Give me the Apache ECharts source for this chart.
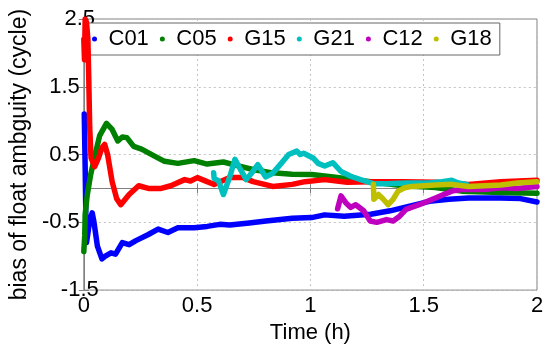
<!DOCTYPE html>
<html>
<head>
<meta charset="utf-8">
<script src="https://cdn.jsdelivr.net/npm/echarts@6/dist/echarts.min.js"></script>
<style>
html,body{margin:0;padding:0;background:#fff;}
#chart{width:550px;height:349px;}
</style>
</head>
<body>
<div id="chart"></div>
<script>
// ---- data (time in hours, bias in cycles) ----
const seriesNames = ['C01', 'C05', 'G15', 'G21', 'C12', 'G18'];
const xTicks = [0, 0.5, 1, 1.5, 2];
const yTicks = [-1.5, -0.5, 0.5, 1.5, 2.5];

const C01 = [[0.002,1.1],[0.006,0.3],[0.009,-0.4],[0.012,-0.8],[0.025,-0.5],[0.037,-0.36],[0.045,-0.5],[0.06,-0.85],[0.08,-1.04],[0.095,-1.0],[0.12,-0.95],[0.14,-0.97],[0.17,-0.8],[0.2,-0.83],[0.23,-0.77],[0.285,-0.68],[0.328,-0.6],[0.371,-0.65],[0.415,-0.58],[0.487,-0.58],[0.544,-0.56],[0.6,-0.53],[0.644,-0.54],[0.73,-0.51],[0.804,-0.48],[0.92,-0.44],[1.005,-0.43],[1.063,-0.39],[1.149,-0.41],[1.266,-0.38],[1.352,-0.33],[1.438,-0.26],[1.525,-0.19],[1.611,-0.16],[1.698,-0.14],[1.84,-0.14],[1.927,-0.15],[2.0,-0.2]];
const C05 = [[0.0,-0.93],[0.004,-0.7],[0.006,-0.38],[0.015,-0.1],[0.03,0.2],[0.05,0.5],[0.07,0.78],[0.1,0.96],[0.125,0.87],[0.15,0.7],[0.17,0.76],[0.19,0.75],[0.22,0.62],[0.255,0.58],[0.31,0.48],[0.356,0.4],[0.415,0.37],[0.487,0.41],[0.544,0.36],[0.616,0.39],[0.687,0.33],[0.746,0.28],[0.832,0.23],[0.919,0.21],[1.005,0.206],[1.119,0.16],[1.266,0.1],[1.337,0.07],[1.408,0.04],[1.551,0.015],[1.667,-0.04],[1.84,-0.06],[2.0,-0.07]];
const G15 = [[0.0,2.2],[0.003,1.9],[0.006,2.5],[0.012,2.45],[0.018,2.2],[0.022,1.6],[0.026,0.9],[0.032,0.45],[0.048,0.32],[0.065,0.45],[0.08,0.6],[0.092,0.65],[0.105,0.5],[0.125,0.1],[0.145,-0.15],[0.163,-0.24],[0.2,-0.09],[0.242,0.04],[0.285,0.0],[0.341,0.0],[0.384,0.04],[0.445,0.13],[0.471,0.11],[0.501,0.16],[0.544,0.1],[0.575,0.06],[0.644,0.16],[0.704,0.16],[0.747,0.1],[0.834,0.03],[0.92,0.06],[0.976,0.1],[1.063,0.13],[1.162,0.09],[1.266,0.1],[1.408,0.1],[1.551,0.09],[1.698,0.06],[1.84,0.1],[2.0,0.12]];
const G21 = [[0.573,0.23],[0.575,0.15],[0.595,0.11],[0.616,-0.09],[0.645,0.18],[0.667,0.43],[0.688,0.3],[0.717,0.13],[0.746,0.25],[0.768,0.35],[0.803,0.17],[0.832,0.22],[0.861,0.33],[0.904,0.5],[0.94,0.55],[0.955,0.5],[0.97,0.52],[1.012,0.45],[1.034,0.37],[1.063,0.33],[1.099,0.38],[1.135,0.25],[1.178,0.18],[1.221,0.13],[1.279,0.07],[1.336,0.07],[1.422,0.08],[1.524,0.08],[1.581,0.1],[1.624,0.12],[1.653,0.08],[1.689,0.06]];
const C12 = [[1.12,-0.3],[1.128,-0.2],[1.135,-0.11],[1.156,-0.21],[1.178,-0.28],[1.2,-0.24],[1.235,-0.33],[1.264,-0.48],[1.293,-0.5],[1.336,-0.46],[1.365,-0.48],[1.394,-0.41],[1.422,-0.31],[1.48,-0.24],[1.552,-0.14],[1.624,-0.04],[1.667,-0.015],[1.768,-0.015],[1.84,0.01],[1.912,0.0],[2.0,0.03]];
const G18 = [[1.278,0.06],[1.28,-0.16],[1.3,-0.09],[1.322,-0.16],[1.343,-0.24],[1.365,-0.16],[1.387,-0.04],[1.416,0.01],[1.45,0.03],[1.552,0.05],[1.624,0.06],[1.696,0.03],[1.77,0.04],[1.84,0.05],[1.912,0.08],[2.0,0.1]];

const seriesData = [C01, C05, G15, G21, C12, G18];
const colors = ['#0000ff', '#008000', '#ff0000', '#00bfbf', '#bf00bf', '#bfbf00'];

const FONT = "'Liberation Sans', Arial, Helvetica, sans-serif";
const AXIS_COLOR = '#808080';
const GRID_LINE = {show: true, lineStyle: {color: '#c4c4c4', type: [2, 3], width: 1}};

const chart = echarts.init(document.getElementById('chart'), null, {renderer: 'canvas'});

const option = {
  animation: false,
  backgroundColor: '#ffffff',
  color: colors,
  textStyle: {fontFamily: FONT},
  grid: {left: 74, right: 13, top: 19, bottom: 58, show: true, borderColor: AXIS_COLOR, borderWidth: 1, backgroundColor: 'transparent'},
  legend: {
    data: seriesNames,
    left: 84, top: 23,
    padding: [5, 8, 5, 8],
    itemGap: 11,
    itemWidth: 18, itemHeight: 5,
    icon: 'circle',
    backgroundColor: '#ffffff',
    borderColor: '#666666',
    borderWidth: 1,
    borderRadius: 0,
    textStyle: {fontFamily: FONT, fontSize: 22, color: '#000', padding: [0, 0, 0, 0]}
  },
  xAxis: [{
    type: 'value', min: 0, max: 2, interval: 0.5,
    name: 'Time (h)', nameLocation: 'middle', nameGap: 25,
    nameTextStyle: {fontFamily: FONT, fontSize: 22, color: '#000'},
    axisLine: {show: true, lineStyle: {color: AXIS_COLOR}},
    axisTick: {show: true, inside: true, length: 5, lineStyle: {color: AXIS_COLOR}, customValues: xTicks},
    axisLabel: {fontFamily: FONT, fontSize: 22, color: '#000', margin: 5, customValues: xTicks,
      alignMinLabel: 'center', alignMaxLabel: 'center', hideOverlap: false, formatter: v => String(v)},
    splitLine: GRID_LINE
  }, {
    type: 'value', min: 0, max: 2, interval: 0.5, position: 'top',
    axisLine: {show: true, lineStyle: {color: AXIS_COLOR}},
    axisTick: {show: true, inside: true, length: 5, lineStyle: {color: AXIS_COLOR}},
    axisLabel: {show: false}, splitLine: {show: false}
  }],
  yAxis: [{
    type: 'value', min: -1.5, max: 2.5, interval: 0.5,
    name: 'bias of float ambguity (cycle)', nameLocation: 'middle', nameGap: 52,
    nameTextStyle: {fontFamily: FONT, fontSize: 23, color: '#000'},
    axisLine: {show: true, lineStyle: {color: AXIS_COLOR}},
    axisTick: {show: true, inside: true, length: 5, lineStyle: {color: AXIS_COLOR}, customValues: yTicks},
    axisLabel: {fontFamily: FONT, fontSize: 22, color: '#000', margin: 4, customValues: yTicks,
      alignMinLabel: 'center', alignMaxLabel: 'center', hideOverlap: false, formatter: v => String(v)},
    splitLine: GRID_LINE
  }, {
    type: 'value', min: -1.5, max: 2.5, interval: 0.5, position: 'right',
    axisLine: {show: true, lineStyle: {color: AXIS_COLOR}},
    axisTick: {show: true, inside: true, length: 5, lineStyle: {color: AXIS_COLOR}, customValues: yTicks},
    axisLabel: {show: false, customValues: yTicks}, splitLine: {show: false}
  }],
  series: seriesNames.map((name, i) => ({
    name: name,
    type: 'line',
    xAxisIndex: 0, yAxisIndex: 0,
    data: seriesData[i],
    showSymbol: false,
    symbol: 'circle',
    smooth: false,
    lineStyle: {width: 5.5, color: colors[i], cap: 'round', join: 'round'},
    itemStyle: {color: colors[i]},
    z: 2 + i
  }))
};

chart.setOption(option);
</script>
</body>
</html>
